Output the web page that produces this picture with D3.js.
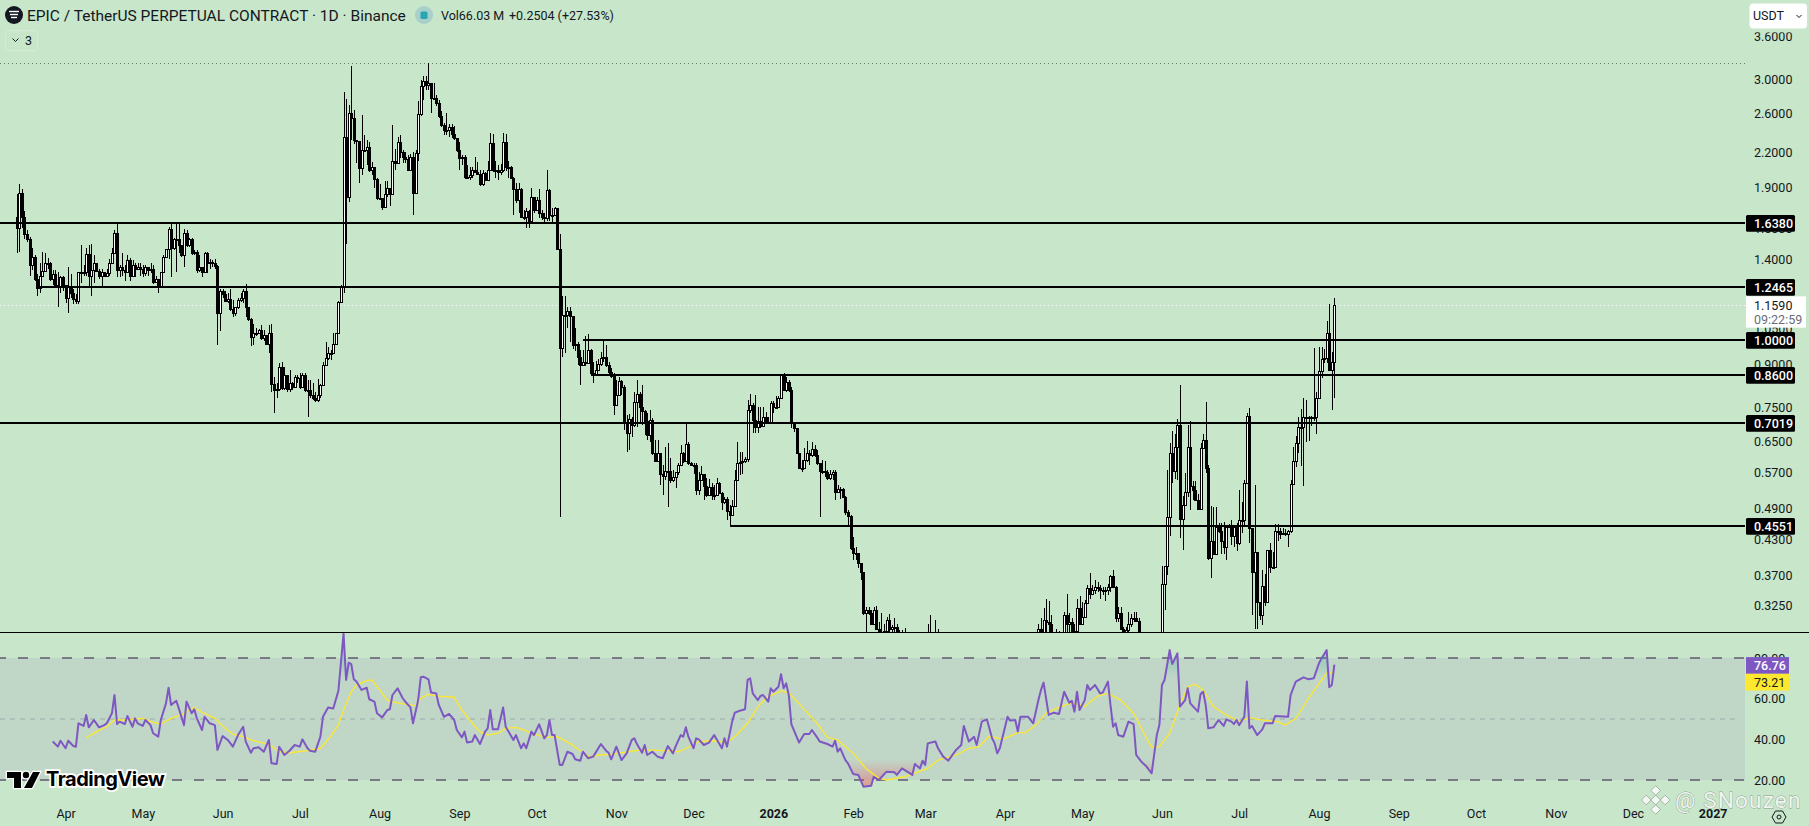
<!DOCTYPE html>
<html><head><meta charset="utf-8">
<style>html,body{margin:0;padding:0;background:#c8e6c9;overflow:hidden}svg{display:block}text{font-family:Roboto,"Liberation Sans",sans-serif}</style>
<script src="https://cdn.jsdelivr.net/npm/d3@7/dist/d3.min.js"></script>
</head><body><svg id="c" width="1809" height="826"></svg>
<script>
// ---------- data ----------
const firstDay = "2025-03-13";
const firstOpen = 1.68;
const closes = [
1.60,1.86,1.68,1.56,1.53,1.37,1.42,1.29,1.245,1.31,
1.335,1.38,1.38,1.29,1.32,1.26,1.25,1.30,1.26,1.19,
1.25,1.22,1.185,1.175,1.33,1.33,1.33,1.435,1.31,1.34,
1.38,1.335,1.31,1.33,1.31,1.325,1.38,1.44,1.57,1.34,
1.36,1.34,1.33,1.40,1.31,1.37,1.35,1.36,1.35,1.325,
1.36,1.34,1.35,1.275,1.29,1.25,1.33,1.415,1.465,1.595,
1.47,1.53,1.53,1.49,1.43,1.57,1.49,1.53,1.44,1.45,
1.34,1.36,1.33,1.44,1.38,1.39,1.38,1.365,1.12,1.23,
1.21,1.175,1.185,1.14,1.12,1.15,1.18,1.19,1.23,1.15,
1.09,1.01,1.03,1.03,1.04,1.005,1.02,.98,1.03,.828,
.81,.813,.89,.815,.86,.813,.833,.818,.855,.85,
.818,.861,.81,.808,.79,.783,.775,.79,.825,.898,
.925,.945,.945,.98,1.03,1.17,1.25,2.35,1.825,2.60,
2.55,2.32,2.31,2.06,2.23,2.23,2.26,2.05,2.07,1.97,
1.82,1.82,1.75,1.85,1.90,1.85,2.13,2.11,2.30,2.21,
2.16,2.14,2.05,2.16,1.86,2.20,2.59,2.92,2.98,2.93,
2.95,2.77,2.77,2.72,2.57,2.48,2.42,2.42,2.45,2.38,
2.34,2.23,2.15,2.16,1.99,1.99,2.00,2.05,2.03,2.01,
1.93,2.02,1.96,2.05,2.29,2.05,2.05,2.03,2.05,2.30,
2.07,2.07,1.98,1.89,1.80,1.89,1.68,1.68,1.72,1.65,
1.83,1.73,1.80,1.71,1.68,1.67,1.88,1.69,1.69,1.74,
1.465,.966,1.11,1.11,1.13,1.105,.978,.98,.93,.898,
.91,.905,.957,.87,.861,.88,.902,.925,.93,.898,
.872,.857,.758,.79,.84,.817,.705,.673,.715,.697,
.768,.795,.752,.74,.708,.668,.712,.62,.60,.62,
.567,.562,.574,.574,.552,.56,.572,.588,.62,.60,
.643,.593,.59,.59,.53,.552,.568,.538,.519,.536,
.519,.519,.545,.523,.503,.511,.485,.477,.495,.552,
.593,.597,.60,.604,.743,.758,.712,.69,.71,.693,
.72,.706,.702,.765,.752,.752,.783,.861,.808,.836,
.808,.702,.688,.62,.581,.581,.601,.62,.614,.63,
.614,.593,.574,.574,.572,.557,.568,.572,.526,.532,
.532,.515,.483,.474,.415,.406,.406,.39,.375,.315,
.319,.315,.301,.319,.295,.291,.291,.292,.306,.295,
.297,.297,.291,.285,.283,.279,.272,.268,.262,.258,
.255,.26,.263,.266,.268,.272,.27,.274,.272,.268,
.265,.262,.266,.262,.26,.264,.266,.27,.268,.272,
.276,.274,.278,.274,.27,.266,.262,.258,.262,.266,
.27,.268,.272,.276,.274,.278,.276,.274,.272,.27,
.266,.27,.274,.272,.276,.278,.282,.294,.289,.306,
.303,.301,.29,.283,.283,.287,.287,.312,.301,.303,
.291,.292,.322,.301,.31,.329,.35,.341,.347,.352,
.35,.347,.346,.347,.352,.368,.352,.309,.315,.295,
.291,.293,.301,.309,.309,.305,.285,.275,.27,.262,
.255,.25,.248,.26,.28,.356,.384,.472,.62,.575,
.635,.698,.468,.497,.525,.635,.54,.53,.508,.49,
.632,.655,.582,.398,.428,.405,.454,.445,.427,.417,
.454,.456,.437,.454,.424,.466,.466,.545,.725,.451,
.375,.407,.33,.313,.353,.33,.411,.383,.383,.445,
.445,.44,.442,.44,.445,.544,.60,.645,.69,.692,
.72,.72,.72,.72,.722,.78,.875,.92,.927,1.03,
.88,.91,1.159];
const highs = [
1.85,1.93,1.89,1.72,1.59,1.54,1.47,1.43,1.32,1.38,
1.45,1.44,1.41,1.39,1.34,1.34,1.33,1.31,1.31,1.26,
1.36,1.32,1.24,1.21,1.33,1.49,1.37,1.47,1.49,1.50,
1.43,1.38,1.345,1.35,1.33,1.35,1.405,1.47,1.59,1.64,
1.37,1.44,1.37,1.43,1.41,1.40,1.38,1.38,1.38,1.37,
1.37,1.36,1.38,1.37,1.31,1.29,1.33,1.43,1.465,1.61,
1.64,1.535,1.64,1.64,1.49,1.595,1.59,1.535,1.535,1.46,
1.46,1.43,1.36,1.45,1.45,1.405,1.40,1.405,1.37,1.24,
1.24,1.23,1.22,1.24,1.18,1.15,1.19,1.22,1.24,1.265,
1.15,1.095,1.07,1.05,1.045,1.065,1.04,1.02,1.065,1.07,
.855,.833,.905,.91,.89,.85,.88,.835,.86,.861,
.87,.87,.87,.843,.843,.833,.80,.848,.83,.91,
.99,.97,.957,1.03,1.03,1.175,1.26,2.85,2.76,2.69,
3.17,2.64,2.32,2.30,2.58,2.37,2.32,2.30,2.12,2.07,
1.98,1.93,1.82,1.95,1.95,1.90,2.48,2.24,2.35,2.37,
2.23,2.21,2.18,2.19,2.21,2.23,2.74,2.99,3.05,3.05,
3.22,2.95,2.95,2.81,2.75,2.63,2.50,2.60,2.49,2.49,
2.46,2.34,2.30,2.18,2.18,2.09,2.07,2.07,2.16,2.12,
2.05,2.05,2.03,2.13,2.39,2.38,2.13,2.09,2.10,2.39,
2.38,2.13,2.08,1.99,1.94,1.94,1.90,1.73,1.74,1.73,
1.90,1.82,1.83,1.89,1.73,1.71,2.05,1.89,1.74,1.75,
1.74,1.56,1.20,1.20,1.15,1.15,1.077,1.05,.99,.957,
.957,1.015,1.025,.96,.91,.915,.92,.95,1.0,.978,
.91,.887,.87,.843,.855,.843,.825,.727,.73,.72,
.80,.843,.80,.825,.743,.735,.743,.718,.654,.654,
.60,.588,.635,.645,.606,.576,.572,.593,.64,.622,
.70,.648,.596,.593,.593,.572,.586,.568,.557,.555,
.545,.541,.557,.548,.526,.515,.515,.497,.508,.576,
.648,.622,.622,.61,.775,.795,.765,.79,.752,.752,
.752,.737,.72,.77,.77,.788,.788,.865,.87,.855,
.843,.82,.706,.688,.62,.601,.632,.652,.627,.648,
.64,.627,.593,.601,.60,.576,.576,.576,.576,.541,
.536,.534,.517,.487,.477,.435,.416,.406,.381,.375,
.323,.323,.319,.323,.325,.304,.315,.301,.31,.314,
.30,.309,.301,.293,.293,.296,.28,.277,.272,.268,
.263,.266,.27,.272,.301,.312,.285,.306,.294,.278,
.274,.27,.272,.27,.268,.27,.274,.278,.276,.278,
.283,.282,.284,.282,.279,.276,.272,.268,.27,.273,
.277,.276,.278,.282,.282,.284,.283,.282,.28,.278,
.275,.278,.28,.28,.283,.285,.288,.301,.309,.322,
.334,.332,.312,.289,.295,.292,.289,.317,.341,.315,
.308,.301,.335,.338,.33,.333,.355,.373,.355,.362,
.36,.355,.352,.352,.357,.37,.378,.354,.323,.323,
.297,.297,.317,.314,.316,.316,.308,.287,.28,.274,
.266,.26,.258,.27,.287,.384,.385,.576,.645,.68,
.67,.715,.825,.516,.57,.698,.71,.55,.55,.52,
.645,.67,.767,.59,.495,.494,.494,.46,.46,.462,
.457,.459,.467,.457,.46,.53,.503,.552,.735,.75,
.451,.541,.407,.328,.378,.372,.412,.424,.407,.459,
.459,.451,.452,.45,.447,.552,.635,.667,.72,.747,
.78,.775,.725,.725,.965,.80,.97,.97,.96,1.08,
1.16,.95,1.19];
const lows = [
1.44,1.45,1.60,1.53,1.51,1.31,1.34,1.28,1.20,1.22,
1.30,1.34,1.35,1.28,1.26,1.25,1.15,1.22,1.23,1.165,
1.12,1.19,1.16,1.16,1.16,1.27,1.31,1.31,1.25,1.20,
1.27,1.33,1.29,1.25,1.305,1.305,1.31,1.38,1.44,1.30,
1.30,1.31,1.28,1.33,1.28,1.305,1.305,1.34,1.31,1.305,
1.31,1.31,1.325,1.265,1.27,1.215,1.25,1.33,1.41,1.405,
1.30,1.46,1.33,1.44,1.415,1.36,1.48,1.48,1.43,1.43,
1.325,1.33,1.30,1.33,1.325,1.35,1.36,1.35,.978,1.035,
1.19,1.17,1.165,1.13,1.10,1.105,1.14,1.17,1.165,1.10,
1.08,.974,.978,1.015,1.025,1.0,.995,.978,.945,.80,
.733,.78,.805,.808,.808,.80,.80,.808,.818,.833,
.813,.818,.80,.72,.783,.775,.768,.768,.783,.89,
.918,.918,.918,.978,.978,1.03,1.165,1.22,1.50,1.79,
2.32,2.28,2.11,1.94,2.00,2.21,2.09,2.03,2.00,1.90,
1.80,1.81,1.73,1.75,1.83,1.76,1.86,2.05,2.13,2.15,
2.11,2.11,2.05,2.05,1.69,1.86,2.13,2.57,2.75,2.87,
2.87,2.60,2.75,2.68,2.55,2.45,2.37,2.37,2.35,2.34,
2.32,2.21,2.05,2.09,1.97,1.97,1.96,1.98,2.03,2.00,
1.91,1.91,1.95,2.04,2.07,2.03,1.98,1.96,2.00,2.03,
2.04,1.98,1.97,1.69,1.78,1.71,1.67,1.66,1.60,1.60,
1.68,1.71,1.74,1.67,1.66,1.64,1.65,1.65,1.64,1.685,
1.46,.473,.928,.945,1.05,.99,.96,.953,.90,.825,
.895,.895,.94,.861,.833,.857,.88,.895,.91,.89,
.861,.85,.727,.755,.788,.79,.682,.622,.627,.662,
.69,.69,.70,.697,.668,.654,.65,.614,.596,.596,
.542,.519,.552,.493,.545,.548,.535,.564,.588,.593,
.614,.59,.586,.568,.519,.519,.552,.508,.515,.519,
.508,.508,.519,.521,.487,.50,.467,.453,.475,.493,
.55,.564,.566,.593,.597,.733,.673,.673,.673,.688,
.702,.702,.70,.702,.733,.75,.752,.78,.805,.80,
.80,.688,.677,.617,.581,.572,.583,.597,.588,.61,
.61,.59,.473,.568,.56,.552,.552,.552,.508,.523,
.511,.515,.477,.453,.411,.394,.394,.381,.362,.312,
.291,.312,.30,.301,.293,.283,.287,.287,.291,.287,
.291,.291,.283,.279,.275,.271,.266,.262,.255,.25,
.245,.252,.256,.258,.26,.262,.263,.265,.265,.262,
.258,.256,.258,.255,.254,.256,.26,.262,.261,.265,
.268,.267,.27,.266,.263,.26,.256,.252,.254,.258,
.262,.26,.264,.268,.267,.27,.268,.266,.265,.262,
.26,.262,.266,.265,.268,.27,.274,.287,.283,.287,
.291,.291,.287,.279,.279,.283,.283,.287,.29,.291,
.289,.287,.291,.299,.30,.309,.328,.335,.34,.341,
.345,.335,.34,.332,.34,.345,.35,.303,.303,.293,
.287,.287,.291,.297,.304,.303,.283,.268,.262,.255,
.25,.242,.24,.247,.258,.28,.319,.37,.436,.545,
.555,.552,.433,.412,.495,.515,.486,.508,.505,.486,
.49,.63,.57,.395,.365,.402,.405,.442,.405,.405,
.395,.451,.42,.417,.41,.42,.442,.457,.545,.424,
.312,.294,.294,.306,.30,.325,.362,.373,.38,.392,
.427,.43,.44,.437,.417,.442,.543,.585,.62,.587,
.54,.648,.653,.695,.71,.67,.78,.85,.905,.905,
.875,.743,.78];

// RSI readings: day number (counted from firstDay) and value
const rsiDays = [14,16,17,19,20,22,23,24,26,27,28,30,32,34,35,37,38,39,40,42,43,45,46,47,49,50,52,53,55,56,58,59,60,62,63,65,66,68,69,70,72,73,75,77,78,80,82,84,86,88,89,91,92,94,96,98,99,101,102,104,106,108,110,111,113,114,116,118,119,121,123,125,127,128,129,130,131,132,134,136,137,139,140,142,144,145,146,148,150,151,153,154,156,157,158,160,161,163,164,166,168,170,171,173,174,175,177,178,180,182,183,184,185,187,189,190,193,194,196,197,198,200,201,203,205,206,207,208,209,211,212,214,216,217,219,220,222,224,227,229,230,231,233,235,237,239,240,241,243,244,245,247,249,251,253,255,256,258,259,260,261,263,264,
265,267,269,271,274,275,276,278,279,281,283,284,285,286,288,289,290,292,293,294,296,297,298,299,300,301,304,306,308,309,311,312,315,317,318,319,320,322,323,325,327,329,332,333,335,338,341,342,344,346,348,349,351,352,353,354,357,358,360,362,365,367,368,370,372,373,375,377,379,380,381,382,385,386,388,389,390,393,395,397,398,399,401,403,405,407,409,410,411,412,413,415,416,417,419,421,422,424,425,426,427,428,430,432,434,435,437,439,441,443,444,445,446,448,449,451,452,454,455,456,459,460,461,462,463,465,467,469,470,472,473,474,475,477,478,479,480,482,484,485,488,489,494,495,497,500,502,504,506,507,509,510,511,512];
const rsiValues = [38.9,36.4,39.3,35.6,39.3,36.7,36.4,47.9,46.6,52,45.9,49.5,45.9,47,47.9,52.8,61.8,47.5,48.7,47.5,51.5,46.2,50.3,47.9,46.6,49.5,47,43,41.3,49.5,57.7,65.4,56.9,59,55.2,47,58.5,52.8,54.8,50.3,44.6,51.1,47.9,47,34.8,41.6,39.7,36.4,42.1,46.2,38.9,33.4,35.6,36.1,33.9,39.7,28.2,27.9,36.4,32.3,34.4,37.2,36.4,40,35.6,34.4,33.9,41.3,51.1,55.7,55.2,63.9,92.1,69.2,77.7,77,69.5,68.4,64.3,65.4,59.7,58.5,52.8,50.8,54.4,54.8,61.8,65.1,60.2,58.5,55.7,47.9,59.3,70.5,70.8,69.5,63,62.6,56.9,51.1,52.5,49.5,44.6,41,43.8,38.4,38.9,42.1,37.7,43.8,45.4,54.4,44.9,44.9,55.7,46.2,39.7,42.1,35.6,38,35.6,43.8,42.1,47.4,40.5,42.1,49.5,42.1,42.1,27.4,27.4,33.9,32.8,30.2,29.5,33.9,30.7,31.5,37.7,34.4,33.4,30.2,36.4,29.8,33.1,39.7,40.5,37.7,33.4,37.2,32.3,33.9,31.5,30.7,36.7,33.1,36.4,42.1,41.3,45.9,41.3,35.6,40.5,
40,37.2,38.4,42.1,35.6,40.5,36.4,48.7,53.1,54.1,54.8,69.2,70,62.6,59.3,61.3,61.8,58.5,65.1,63.4,65.9,72,65.1,67.5,61.8,47.5,38.4,42.6,42.6,44.6,41,38.9,37.7,36.4,39.3,33.9,35.6,29.8,28.2,23,22.5,16.7,17.2,21.6,20,24.1,23.8,22.5,25.7,24.1,22.5,27.9,25.7,29.5,27.4,38,38.9,35.6,31.5,29.5,34.8,37.2,46.6,38.9,41.3,37.2,48.7,49.8,40.5,38,33.1,35.6,51.1,49.2,49.5,43.8,51.1,51.1,47.9,59.3,64.3,67.9,52,53.1,52.5,63.4,58,58.9,53.6,63.4,54.4,59.3,66.7,64.3,66.7,62.6,63,68.4,56.9,46.2,47.9,42.1,41.3,48.7,47.5,32.3,29,26.6,23.3,42.1,47,66.7,69.2,83.9,77,82.3,56.1,59.3,65.1,57.7,53.6,62.3,63.4,56.9,45.4,45.9,49.5,46.6,49.8,48.7,47.5,49.5,47,51.1,68.4,45.4,46.6,42.1,44.9,47.9,47.9,51.5,51.1,61.8,68.4,70.5,69.5,70,77.4,79.8,83.9,65.6,66.7,76.76];
// RSI moving average readings
const maDays = [27,31,35,38,42,49,52,56,60,64,67,69,72,77,81,84,88,92,98,102,106,113,118,122,125,127,130,132,136,138,141,144,147,150,155,157,160,164,170,173,177,180,183,187,190,194,197,201,206,210,215,219,223,226,231,240,245,252,257,262,265,271,276,279,284,288,292,297,300,305,311,315,319,325,330,335,338,345,354,358,365,370,374,378,383,389,392,396,400,404,410,415,420,424,429,434,438,441,444,448,452,455,458,461,465,470,475,479,484,490,493,497,502,506,509,512];
const maValues = [40.8,43.8,46.2,49.5,49.5,50.3,48.7,47.5,50.3,52,54.4,55.6,53.3,50.3,45.4,42.5,41.3,39.3,37.5,33.9,33.4,34.4,35.6,41.3,47,54.4,63.4,66.7,68.9,69.2,64.3,59.3,58.2,57.4,56.6,60.2,62.1,61.3,60.7,54.4,47.9,43.8,42.1,43,45.4,45.9,44.6,42.5,41,41.3,38,34.4,31.1,32.3,32.6,34.4,34.8,34.4,33.9,36.7,38.9,39.3,38.4,41.3,47.9,56.1,61,63.8,63,56.1,47.9,41,39.7,33.1,25.7,20.8,20,21.6,25.7,29.8,32.3,35.6,36.4,41.6,40,43.3,43.3,47,52.8,55.2,58,56.1,61.3,62.6,59.3,52.8,43,36.1,36.4,43,56.9,65.9,67,64.3,56.1,52,48.7,50.7,49.5,48.7,47,50.3,60.2,67.5,72.5,73.21];

const levelPrices = [1.638,1.2465,1.0,0.86,0.7019,0.4551];
const levelStartDays = [-10,9,220,223,-10,277];
const priceTicks = [3.6,3.0,2.6,2.2,1.9,1.6,1.4,1.05,1.0,0.9,0.75,0.65,0.57,0.49,0.43,0.37,0.325];
const rsiTicks = [80,60,40,20];
const monthTicks = ["2025-04-01","2025-05-01","2025-06-01","2025-07-01","2025-08-01","2025-09-01","2025-10-01","2025-11-01","2025-12-01","2026-01-01","2026-02-01","2026-03-01","2026-04-01","2026-05-01","2026-06-01","2026-07-01","2026-08-01","2026-09-01","2026-10-01","2026-11-01","2026-12-01","2027-01-01"];
const rangeHigh = 3.216;
const lastPrice = 1.159;
const countdown = "09:22:59";
const rsiLast = 76.76, maLast = 73.21;
const titleText = "EPIC / TetherUS PERPETUAL CONTRACT · 1D · Binance";
const volText = "Vol66.03 M", changeText = "+0.2504 (+27.53%)";

// ---------- scales ----------
const paneRight = 1745, priceBottom = 632;
const svg = d3.select("#c");
const x = d3.scaleUtc().domain([new Date("2025-04-01"), new Date("2027-01-01")]).range([65.6, 1712.7]);
const y = d3.scaleLog().domain([0.2909, 4.196]).range([priceBottom, 0]);
const ry = d3.scaleLinear().domain([20, 80]).range([780, 658]);
const dayMs = 864e5, t0 = +new Date(firstDay);
const dayX = d => x(new Date(t0 + d * dayMs));
const ink = "#131722";
const axisFont = "12.5px";

svg.append("rect").attr("width",1809).attr("height",826).attr("fill","#c8e6c9");
const defs = svg.append("defs");
defs.append("clipPath").attr("id","pricePane").append("rect").attr("x",0).attr("y",0).attr("width",paneRight).attr("height",priceBottom);
defs.append("clipPath").attr("id","rsiPane").append("rect").attr("x",0).attr("y",priceBottom).attr("width",paneRight).attr("height",170);
defs.append("clipPath").attr("id","under30").append("rect").attr("x",0).attr("y",ry(30)).attr("width",paneRight).attr("height",120);
defs.append("clipPath").attr("id","over70").append("rect").attr("x",0).attr("y",priceBottom).attr("width",paneRight).attr("height",ry(70)-priceBottom);
const gRed = defs.append("linearGradient").attr("id","gRed").attr("gradientUnits","userSpaceOnUse").attr("x1",0).attr("x2",0).attr("y1",ry(30)).attr("y2",ry(18));
gRed.append("stop").attr("offset",0).attr("stop-color","#f23645").attr("stop-opacity",0);
gRed.append("stop").attr("offset",1).attr("stop-color","#f23645").attr("stop-opacity",.38);
const gGreen = defs.append("linearGradient").attr("id","gGreen").attr("gradientUnits","userSpaceOnUse").attr("x1",0).attr("x2",0).attr("y1",ry(70)).attr("y2",ry(84));
gGreen.append("stop").attr("offset",0).attr("stop-color","#089981").attr("stop-opacity",0);
gGreen.append("stop").attr("offset",1).attr("stop-color","#089981").attr("stop-opacity",.28);

// ---------- price pane ----------
const candles = closes.map((c,i)=>({i, c, h:highs[i], l:lows[i], o:i?closes[i-1]:firstOpen}));
const pricePane = svg.append("g").attr("clip-path","url(#pricePane)");
pricePane.append("line").attr("x1",0).attr("x2",paneRight).attr("y1",Math.round(y(rangeHigh))+.5).attr("y2",Math.round(y(rangeHigh))+.5)
  .attr("stroke","#5f7f68").attr("stroke-dasharray","1 3");
pricePane.append("line").attr("x1",0).attr("x2",paneRight).attr("y1",Math.round(y(lastPrice))+.5).attr("y2",Math.round(y(lastPrice))+.5)
  .attr("stroke","#ffffff").attr("stroke-dasharray","1 3");
const cg = pricePane.selectAll("g.k").data(candles).join("g").attr("class","k").attr("shape-rendering","crispEdges");
cg.append("line").attr("x1",d=>Math.round(dayX(d.i))+.5).attr("x2",d=>Math.round(dayX(d.i))+.5)
  .attr("y1",d=>y(d.h)).attr("y2",d=>y(d.l)).attr("stroke","#000");
cg.append("rect").attr("x",d=>Math.round(dayX(d.i))-.5).attr("width",2)
  .attr("y",d=>Math.round(y(Math.max(d.o,d.c)))+.5)
  .attr("height",d=>Math.max(1,Math.round(y(Math.min(d.o,d.c)))-Math.round(y(Math.max(d.o,d.c)))))
  .attr("fill",d=>d.c>=d.o?"#fff":"#000").attr("stroke","#000");
pricePane.selectAll("line.lvl").data(levelPrices).join("line").attr("class","lvl").attr("shape-rendering","crispEdges")
  .attr("x1",(d,i)=>dayX(levelStartDays[i])).attr("x2",paneRight).attr("y1",d=>Math.round(y(d))).attr("y2",d=>Math.round(y(d)))
  .attr("stroke","#000").attr("stroke-width",2);

// ---------- RSI pane ----------
svg.append("rect").attr("x",0).attr("width",paneRight).attr("y",ry(80)).attr("height",ry(20)-ry(80)).attr("fill","rgba(126,87,194,.1)");
svg.selectAll("line.rb").data([80,20]).join("line").attr("class","rb").attr("x1",0).attr("x2",paneRight)
  .attr("y1",d=>ry(d)).attr("y2",d=>ry(d)).attr("stroke","#787b86").attr("stroke-width",2).attr("stroke-dasharray","10 12").attr("stroke-dashoffset",4);
svg.append("line").attr("x1",0).attr("x2",paneRight-6).attr("y1",ry(50)).attr("y2",ry(50)).attr("stroke","#787b86").attr("stroke-opacity",.5).attr("stroke-dasharray","5 5");
const rsiPts = rsiDays.map((d,i)=>({d,v:rsiValues[i]}));
const maPts = maDays.map((d,i)=>({d,v:maValues[i]}));
const rsiPane = svg.append("g").attr("clip-path","url(#rsiPane)");
rsiPane.append("g").attr("clip-path","url(#under30)").append("path").datum(rsiPts)
  .attr("d",d3.area().x(p=>dayX(p.d)).y0(ry(30)).y1(p=>ry(p.v))).attr("fill","url(#gRed)");
rsiPane.append("g").attr("clip-path","url(#over70)").append("path").datum(rsiPts)
  .attr("d",d3.area().x(p=>dayX(p.d)).y0(ry(70)).y1(p=>ry(p.v))).attr("fill","url(#gGreen)");
rsiPane.append("path").datum(maPts).attr("fill","none").attr("stroke","#fde72f").attr("stroke-width",1.3)
  .attr("d",d3.line().x(p=>dayX(p.d)).y(p=>ry(p.v)));
rsiPane.append("path").datum(rsiPts).attr("fill","none").attr("stroke","#7e57c2").attr("stroke-width",2).attr("stroke-linejoin","round")
  .attr("d",d3.line().x(p=>dayX(p.d)).y(p=>ry(p.v)));
svg.append("line").attr("x1",0).attr("x2",1809).attr("y1",priceBottom+.5).attr("y2",priceBottom+.5).attr("stroke","#000");

// ---------- axes ----------
function styleAxis(g){ g.select(".domain").remove(); g.selectAll("text").attr("fill",ink).style("font-size",axisFont).style("font-family",'Roboto,"Liberation Sans",sans-serif'); }
svg.append("g").attr("transform",`translate(${paneRight},0)`)
  .call(d3.axisRight(y).tickValues(priceTicks).tickSize(0).tickPadding(9).tickFormat(d=>d.toFixed(4))).call(styleAxis);
svg.append("g").attr("transform",`translate(${paneRight},0)`)
  .call(d3.axisRight(ry).tickValues(rsiTicks).tickSize(0).tickPadding(9).tickFormat(d=>d.toFixed(2))).call(styleAxis);
const timeAxis = svg.append("g").attr("transform","translate(0,804)")
  .call(d3.axisBottom(x).tickValues(monthTicks.map(s=>new Date(s))).tickSize(0).tickPadding(5)
    .tickFormat(d=>d.getUTCMonth()===0?String(d.getUTCFullYear()):d3.utcFormat("%b")(d))).call(styleAxis);
timeAxis.selectAll("text").style("font-weight",d=>d.getUTCMonth()===0?"700":"400");

// ---------- price tags ----------
const tagX = paneRight+1;
const tags = svg.selectAll("g.tag").data(levelPrices).join("g").attr("class","tag");
tags.append("rect").attr("x",tagX).attr("width",49).attr("y",d=>Math.round(y(d))-8).attr("height",16.7).attr("rx",1.5).attr("fill","#000");
tags.append("text").attr("x",paneRight+9).attr("y",d=>Math.round(y(d))+.7).attr("dy",".35em").attr("fill","#fff").style("font-size",axisFont).style("font-weight",500).text(d=>d.toFixed(4));
// last price pill
const ly = y(lastPrice);
svg.append("rect").attr("x",tagX).attr("y",ly-8.3).attr("width",60).attr("height",31.3).attr("fill","#fff");
svg.append("text").attr("x",paneRight+9).attr("y",ly+.5).attr("dy",".35em").attr("fill",ink).style("font-size",axisFont).text(lastPrice.toFixed(4));
svg.append("text").attr("x",paneRight+9).attr("y",ly+14.5).attr("dy",".35em").attr("fill","#6a6d78").style("font-size",axisFont).text(countdown);
// RSI tags
const rsiTagY = ry(rsiLast);
svg.append("rect").attr("x",tagX).attr("y",rsiTagY-7.5).attr("width",43).attr("height",16.7).attr("fill","#7e57c2");
svg.append("text").attr("x",paneRight+9).attr("y",rsiTagY+1).attr("dy",".35em").attr("fill","#fff").style("font-size",axisFont).style("font-weight",500).text(rsiLast.toFixed(2));
svg.append("rect").attr("x",tagX).attr("y",rsiTagY+9.2).attr("width",43).attr("height",16.7).attr("fill","#fde72f");
svg.append("text").attr("x",paneRight+9).attr("y",rsiTagY+17.7).attr("dy",".35em").attr("fill",ink).style("font-size",axisFont).text(maLast.toFixed(2));

// ---------- toolbar and legend ----------
svg.append("rect").attr("x",1746).attr("y",0).attr("width",63).attr("height",32.3).attr("fill","#c8e6c9");
svg.append("rect").attr("x",1749.5).attr("y",3.5).attr("width",57.5).attr("height",25).attr("rx",4).attr("fill","#fff");
svg.append("text").attr("x",1753).attr("y",16).attr("dy",".35em").attr("fill",ink).style("font-size",axisFont).text("USDT");
svg.append("path").attr("d","M1796.5 15l2.5 2.5 2.5-2.5").attr("fill","none").attr("stroke",ink);
svg.append("circle").attr("cx",14).attr("cy",15).attr("r",9).attr("fill","#131722");
svg.selectAll("line.ep").data([11.5,14.5,17.5]).join("line").attr("class","ep").attr("x1",(d,i)=>9+i).attr("x2",(d,i)=>19-i).attr("y1",d=>d).attr("y2",d=>d).attr("stroke","#fff").attr("stroke-width",1.4);
svg.append("text").attr("x",27).attr("y",15.5).attr("dy",".35em").attr("fill",ink).style("font-size","15.5px").text(titleText);
svg.append("circle").attr("cx",424).attr("cy",15).attr("r",9).attr("fill","#a8cfc9");
svg.append("rect").attr("x",420.5).attr("y",11.5).attr("width",7).attr("height",7.5).attr("rx",1.5).attr("fill","#26a6b3");
svg.append("text").attr("x",441).attr("y",15.5).attr("dy",".35em").attr("fill",ink).style("font-size","12.5px").text(volText);
svg.append("text").attr("x",509).attr("y",15.5).attr("dy",".35em").attr("fill",ink).style("font-size","12.5px").text(changeText);
svg.append("rect").attr("x",5.5).attr("y",30.5).attr("width",32).attr("height",20).attr("rx",3).attr("fill","none").attr("stroke","#d8ebda");
svg.append("path").attr("d","M12.5 38.5l3 3 3-3").attr("fill","none").attr("stroke",ink);
svg.append("text").attr("x",25).attr("y",40.5).attr("dy",".35em").attr("fill",ink).style("font-size",axisFont).text("3");

// ---------- TradingView mark ----------
const tv = svg.append("g");
tv.append("path").attr("d","M7 772h14v16h-7v-10H7z M33 772h7l-8 16h-8z").attr("fill","#000").attr("stroke","#fff").attr("stroke-width",2.5).attr("paint-order","stroke");
tv.append("circle").attr("cx",26).attr("cy",775).attr("r",3.2).attr("fill","#000").attr("stroke","#fff").attr("stroke-width",2.5).attr("paint-order","stroke");
tv.append("text").attr("x",46).attr("y",786).attr("fill","#000").attr("stroke","#fff").attr("stroke-width",3.5).attr("paint-order","stroke").style("font-family","Inter,Roboto,sans-serif").style("font-size","20px").style("font-weight",700).style("letter-spacing","-0.5px").text("TradingView");

// ---------- gear ----------
svg.append("path").attr("d","M1772 817l3.5-6h7l3.5 6-3.5 6h-7z").attr("fill","none").attr("stroke",ink);
svg.append("circle").attr("cx",1779).attr("cy",817).attr("r",2).attr("fill","none").attr("stroke",ink);

// ---------- author watermark ----------
const wm = svg.append("g");
[[0,-9.5],[-9.5,0],[9.5,0],[0,9.5],[0,0]].forEach(o=>{
  wm.append("rect").attr("x",1655.7+o[0]-3.4).attr("y",800+o[1]-3.4).attr("width",6.8).attr("height",6.8)
    .attr("transform",`rotate(45 ${1655.7+o[0]} ${800+o[1]})`).attr("fill","#f4f8f4").attr("stroke","#8f9f94").attr("stroke-width",.7);
});
wm.append("text").attr("x",1675).attr("y",808).attr("fill","#eef4ef").attr("stroke","#8a9a8e").attr("stroke-width",.8).attr("paint-order","stroke").style("font-size","22.5px").style("letter-spacing","1.2px").text("@ SNouzen");
</script></body></html>
